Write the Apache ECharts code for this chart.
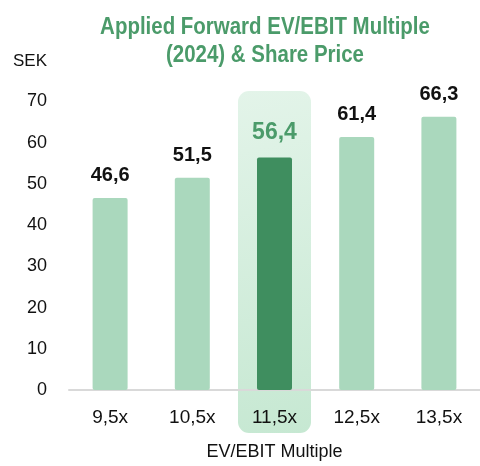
<!DOCTYPE html>
<html>
<head>
<meta charset="utf-8">
<script src="https://cdn.jsdelivr.net/npm/echarts@6/dist/echarts.min.js"></script>
<style>
  html, body { margin: 0; padding: 0; background: #ffffff; }
  #chart { width: 480px; height: 466px; }
</style>
</head>
<body>
<div id="chart"></div>
<script>
// Implied share price (SEK) at each applied forward EV/EBIT multiple
const multiples = ['9,5x', '10,5x', '11,5x', '12,5x', '13,5x'];
const sharePrice = [46.6, 51.5, 56.4, 61.4, 66.3];
const highlightIndex = 2;
const yTicks = { min: 0, max: 70, interval: 10 };

const LIGHT = '#aad8bd';
const DARK = '#3f8e5f';
const TITLE_GREEN = '#4b9b6a';
const FONT = 'Liberation Sans, Arial, sans-serif';
const fmt = v => v.toFixed(1).replace('.', ',');

const chart = echarts.init(document.getElementById('chart'), null, { renderer: 'canvas' });

const barData = sharePrice.map((v, i) => {
  const hi = i === highlightIndex;
  return {
    value: v,
    itemStyle: { color: hi ? DARK : LIGHT },
    label: hi ? { color: TITLE_GREEN, fontSize: 23, distance: 13 } : {}
  };
});

chart.setOption({
  animation: false,
  backgroundColor: '#ffffff',
  grid: { left: 69, top: 101.5, width: 422, height: 291.5, containLabel: false },
  xAxis: {
    type: 'category',
    data: multiples,
    name: 'EV/EBIT Multiple',
    nameLocation: 'middle',
    nameGap: 53,
    nameTextStyle: { fontFamily: FONT, fontSize: 18, color: '#111' },
    axisLine: { lineStyle: { color: '#d9d9d9', width: 2 } },
    axisTick: { show: false },
    axisLabel: { fontFamily: FONT, fontSize: 19, color: '#111', margin: 18 }
  },
  yAxis: {
    type: 'value',
    min: yTicks.min,
    max: yTicks.max,
    interval: yTicks.interval,
    name: 'SEK',
    nameLocation: 'end',
    nameGap: 32,
    nameTextStyle: { fontFamily: FONT, fontSize: 17, color: '#111', align: 'left', padding: [0, 0, 0, -56] },
    splitLine: { show: false },
    axisLine: { show: false },
    axisTick: { show: false },
    axisLabel: { fontFamily: FONT, fontSize: 18, color: '#111', margin: 22 }
  },
  series: [{
    type: 'bar',
    data: barData,
    barWidth: 35,
    z: 3,
    itemStyle: { borderRadius: 2 },
    label: {
      show: true,
      position: 'top',
      distance: 12,
      formatter: p => fmt(p.value),
      fontFamily: FONT,
      fontWeight: 'bold',
      fontSize: 20,
      color: '#111'
    }
  }]
});

// Condensed two-line title plus the rounded highlight panel behind the selected
// multiple; the panel is placed from the axis scales.
function drawDecorations() {
  const cx = chart.convertToPixel({ xAxisIndex: 0 }, multiples[highlightIndex]);
  const yTop = chart.convertToPixel({ yAxisIndex: 0 }, yTicks.max);
  const yBase = chart.convertToPixel({ yAxisIndex: 0 }, yTicks.min);
  const w = 73;
  const top = yTop - 10.5;
  const bottom = yBase + 43;
  chart.setOption({
    graphic: [{
      type: 'rect',
      silent: true,
      z: 0,
      shape: { x: cx - w / 2, y: top, width: w, height: bottom - top, r: 11 },
      style: {
        fill: new echarts.graphic.LinearGradient(0, 0, 1, 1, [
          { offset: 0, color: '#e3f4e9' },
          { offset: 1, color: '#c6e8d2' }
        ])
      }
    }, {
      type: 'text',
      silent: true,
      x: 265,
      y: 14,
      scaleX: 0.89,
      style: {
        text: 'Applied Forward EV/EBIT Multiple\n(2024) & Share Price',
        align: 'center',
        verticalAlign: 'top',
        fontFamily: FONT,
        fontWeight: 'bold',
        fontSize: 23,
        lineHeight: 28,
        fill: TITLE_GREEN
      }
    }]
  });
}
drawDecorations();
</script>
</body>
</html>
